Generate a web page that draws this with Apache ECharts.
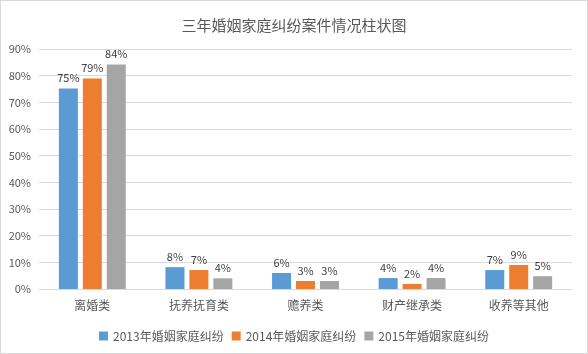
<!DOCTYPE html>
<html>
<head>
<meta charset="utf-8">
<script src="https://cdn.jsdelivr.net/npm/echarts@6/dist/echarts.min.js"></script>
<style>
  body { margin: 0; background: #fff; }
  #main { width: 588px; height: 354px; box-sizing: border-box; border: 1px solid #d9d9d9; }
</style>
</head>
<body>
<div id="main"></div>
<script>
// 三年婚姻家庭纠纷案件情况
var categories = ['离婚类', '抚养抚育类', '赡养类', '财产继承类', '收养等其他'];
var seriesNames = ['2013年婚姻家庭纠纷', '2014年婚姻家庭纠纷', '2015年婚姻家庭纠纷'];
var data2013 = [75.2, 8.2, 6.0, 4.1, 7.1];
var data2014 = [78.9, 7.1, 3.0, 1.9, 9.0];
var data2015 = [84.2, 4.0, 3.0, 4.1, 4.8];
var colors = ['#5B9BD5', '#ED7D31', '#A5A5A5'];

var font = 'Noto Sans CJK SC';
var myChart = echarts.init(document.getElementById('main'));

function makeSeries(name, data, color) {
  return {
    name: name,
    type: 'bar',
    data: data,
    barWidth: 19,
    barGap: '26%',
    itemStyle: { color: color },
    label: {
      show: true,
      position: 'top',
      distance: 5,
      color: '#404040',
      fontSize: 11,
      fontFamily: font,
      formatter: function (p) { return Math.round(p.value) + '%'; }
    }
  };
}

var option = {
  animation: false,
  textStyle: { fontFamily: font },
  title: {
    text: '三年婚姻家庭纠纷案件情况柱状图',
    left: 'center',
    top: 12,
    textStyle: { fontSize: 15, fontWeight: 'normal', color: '#595959', fontFamily: font }
  },
  legend: {
    bottom: 6,
    left: 'center',
    itemWidth: 9,
    itemHeight: 9,
    itemGap: 8,
    icon: 'rect',
    textStyle: { fontSize: 12, color: '#595959', fontFamily: font },
    data: seriesNames
  },
  grid: { left: 38, right: 15, top: 48, bottom: 64, containLabel: false },
  xAxis: {
    type: 'category',
    data: categories,
    axisTick: { show: false },
    axisLine: { lineStyle: { color: '#d9d9d9' } },
    axisLabel: { color: '#595959', fontSize: 12, margin: 10, fontFamily: font }
  },
  yAxis: {
    type: 'value',
    min: 0,
    max: 90,
    interval: 10,
    axisLine: { show: false },
    axisTick: { show: false },
    splitLine: { lineStyle: { color: '#d9d9d9' } },
    axisLabel: { color: '#595959', fontSize: 11, margin: 8, formatter: '{value}%', fontFamily: font }
  },
  series: [
    makeSeries(seriesNames[0], data2013, colors[0]),
    makeSeries(seriesNames[1], data2014, colors[1]),
    makeSeries(seriesNames[2], data2015, colors[2])
  ]
};
myChart.setOption(option);
</script>
</body>
</html>
